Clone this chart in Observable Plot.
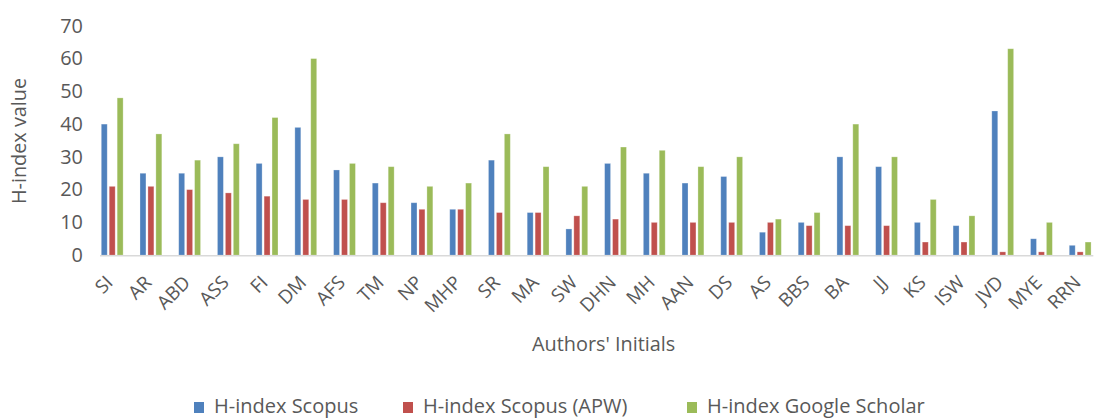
<!DOCTYPE html>
<html><head><meta charset="utf-8">
<script src="https://cdn.jsdelivr.net/npm/d3@7"></script>
<script src="https://cdn.jsdelivr.net/npm/@observablehq/plot@0.6"></script>
<style>
html,body{margin:0;padding:0;background:#fff;overflow:hidden;}
#wrap{position:relative;width:1104px;height:420px;overflow:hidden;font-family:"Open Sans",sans-serif;}
#chart{position:absolute;left:0;top:0;}
.leg{position:absolute;top:393px;height:26px;display:flex;align-items:center;font-size:20px;line-height:26px;color:#595959;white-space:nowrap;}
.sw{display:inline-block;width:10px;height:11px;margin-right:10px;flex:none;position:relative;top:1px;}
</style>
</head><body>
<div id="wrap"><div id="chart"></div><div id="legend"></div></div>
<script>
const authors = ["SI","AR","ABD","ASS","FI","DM","AFS","TM","NP","MHP","SR","MA","SW","DHN","MH","AAN","DS","AS","BBS","BA","JJ","KS","ISW","JVD","MYE","RRN"];
const scopus    = [40,25,25,30,28,39,26,22,16,14,29,13, 8,28,25,22,24, 7,10,30,27,10, 9,44, 5, 3];
const scopusAPW = [21,21,20,19,18,17,17,16,14,14,13,13,12,11,10,10,10,10, 9, 9, 9, 4, 4, 1, 1, 1];
const scholar   = [48,37,29,34,42,60,28,27,21,22,37,27,21,33,32,27,30,11,13,40,30,17,12,63,10, 4];
const seriesNames = ["H-index Scopus","H-index Scopus (APW)","H-index Google Scholar"];
const seriesColors = ["#4F81BD","#C0504D","#9BBB59"];
const yTicks = [0,10,20,30,40,50,60,70];
const xTitle = "Authors' Initials";
const yTitle = "H-index value";

const seriesValues = [scopus, scopusAPW, scholar];
const rows = [];
authors.forEach((a, i) => seriesNames.forEach((s, j) => rows.push({author: a, series: s, value: seriesValues[j][i]})));

const chart = Plot.plot({
  width: 1112, height: 392,
  marginLeft: 89, marginRight: 1, marginTop: 26, marginBottom: 135,
  style: {fontFamily: "'Open Sans', sans-serif", color: "#595959", background: "white"},
  fx: {domain: authors, paddingInner: 0.39, paddingOuter: 0.195},
  x: {domain: seriesNames, paddingInner: 0.24, paddingOuter: 0, axis: null},
  y: {domain: [0, 70]},
  color: {domain: seriesNames, range: seriesColors},
  marks: [
    Plot.barY(rows, {fx: "author", x: "series", y: "value", fill: "series", stroke: "white", strokeOpacity: 0.35, strokeWidth: 0.8}),
    Plot.frame({anchor: "bottom", facet: "super", stroke: "#d9d9d9", strokeWidth: 1.5}),
    Plot.axisY({ticks: yTicks, tickSize: 0, tickPadding: 18, fontSize: 20, fill: "#595959",
      label: yTitle, labelAnchor: "center", labelArrow: "none", labelOffset: 90}),
    Plot.axisFx({anchor: "bottom", tickRotate: -45, tickSize: 0, tickPadding: 24, dx: -3, fontSize: 19, fill: "#595959", label: null}),
    Plot.text([xTitle], {facet: "super", text: d => d, frameAnchor: "bottom", dx: 7, dy: 96, fontSize: 20, fill: "#595959"})
  ]
});
document.getElementById("chart").appendChild(chart);

const legLefts = [194, 403, 687];
const legend = document.getElementById("legend");
seriesNames.forEach((s, i) => {
  const item = document.createElement("div");
  item.className = "leg";
  item.style.left = legLefts[i] + "px";
  const sw = document.createElement("span");
  sw.className = "sw";
  sw.style.background = seriesColors[i];
  const t = document.createElement("span");
  t.textContent = s;
  item.appendChild(sw);
  item.appendChild(t);
  legend.appendChild(item);
});
</script>
</body></html>
